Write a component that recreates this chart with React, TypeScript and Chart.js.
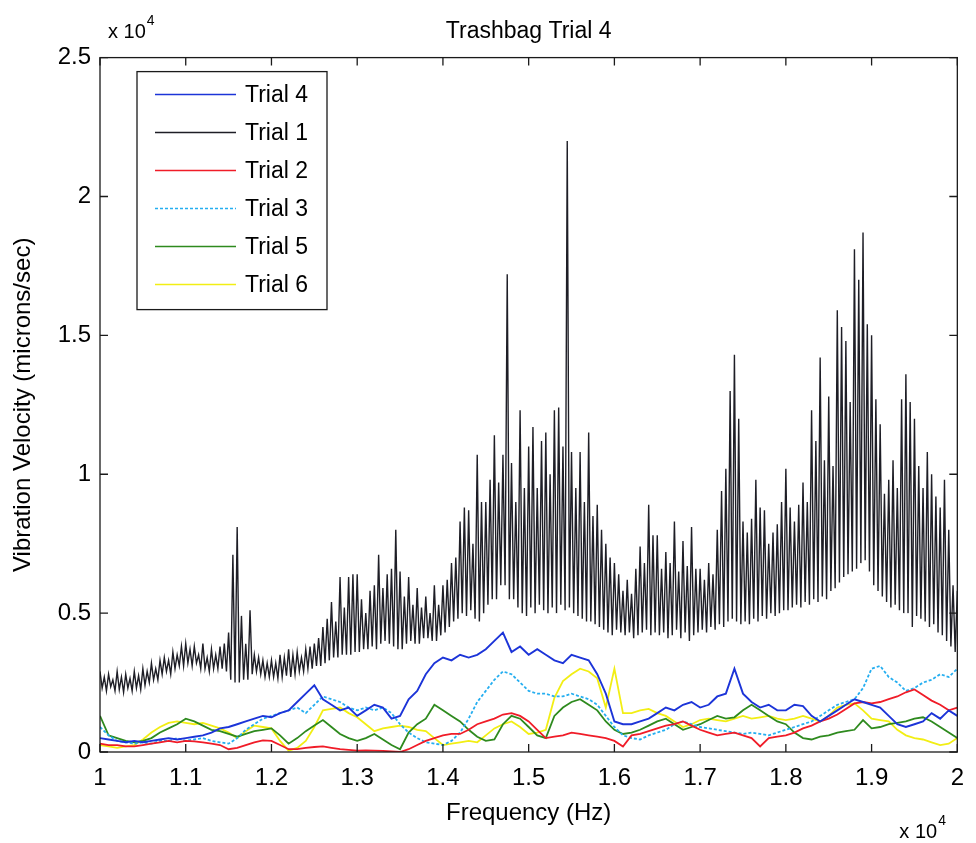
import React, { useEffect, useRef } from "react";
import { Chart, registerables } from "chart.js";

Chart.register(...registerables);

const FONT = '"Liberation Sans", Arial, Helvetica, sans-serif';

// Frequency grids (Hz)
const FREQ_FINE = Array.from({ length: 201 }, (_, i) => 10000 + i * 50);
const FREQ_MID = Array.from({ length: 101 }, (_, i) => 10000 + i * 100);

// Trial 1 (black) – tops / bottoms of the dense oscillation, every 50 Hz
const TRIAL1_UPPER = [
  2900, 2700, 2800, 2600, 2900, 2700, 2800, 2650, 2900, 2750,
  3000, 2900, 3200, 3000, 3300, 3400, 3300, 3600, 3500, 3800,
  3900, 3700, 3800, 3500, 3900, 3400, 3700, 3500, 3800, 3900,
  4300, 7100, 8100, 4900, 3900, 5100, 3500, 3400, 3300, 3200,
  3300, 3200, 3500, 3400, 3700, 3500, 3600, 3400, 3700, 3800,
  3900, 4100, 4500, 4800, 5400, 4700, 6300, 5200, 6300, 6400,
  6400, 5500, 5000, 5800, 6000, 7100, 5900, 6400, 6600, 8000,
  6500, 5600, 6300, 5300, 5900, 5200, 5600, 5000, 6000, 5300,
  6000, 6200, 6800, 7000, 8300, 8800, 8700, 7500, 10700, 9000,
  9000, 9800, 11400, 9700, 10700, 17200, 10400, 9000, 12300, 9500,
  11000, 11700, 9500, 11200, 11500, 10000, 12300, 12400, 11000, 22000,
  10800, 9500, 10800, 9000, 11500, 8500, 8900, 8000, 7500, 7000,
  6800, 6400, 5800, 6200, 5700, 6600, 7400, 6800, 8900, 7800,
  7800, 6600, 7200, 6800, 8300, 6500, 7600, 6700, 8100, 6600,
  6600, 6200, 6800, 6400, 8000, 9400, 10200, 13000, 14300, 12000,
  8300, 7900, 8400, 9800, 8800, 8700, 7500, 7900, 8200, 9000,
  10200, 8800, 8300, 8900, 9700, 9000, 12300, 11200, 14200, 10500,
  12800, 10300, 15900, 15300, 14800, 12600, 18100, 17000, 18700, 15400,
  15000, 12700, 11800, 9300, 9800, 10500, 9500, 12700, 13600, 12600,
  12000, 10300, 9500, 10800, 10000, 9200, 8800, 9800, 8000, 6000,
  5800,
];
const TRIAL1_LOWER = [
  2300, 2200, 2350, 2200, 2250, 2150, 2300, 2200, 2300, 2250,
  2400, 2500, 2600, 2600, 2800, 2900, 2800, 3000, 3100, 3100,
  3200, 3100, 3200, 3000, 3000, 2900, 3000, 3000, 3000, 2900,
  2600, 2500, 2500, 2600, 2600, 2800, 2900, 2800, 2700, 2700,
  2700, 2650, 2700, 2750, 2700, 2800, 2900, 2900, 3000, 3000,
  3100, 3100, 3200, 3300, 3400, 3400, 3500, 3500, 3500, 3600,
  3600, 3700, 3700, 3800, 3700, 3900, 4000, 3900, 3800, 3700,
  3700, 3900, 4000, 3900, 3900, 4100, 4100, 4000, 4000, 4200,
  4300, 4500, 4700, 4800, 5000, 4900, 5100, 4800, 4700, 5000,
  5300, 5500, 5500, 6000, 6000, 5500, 5500, 5200, 5000, 4900,
  5200, 5000, 5300, 5100, 5000, 5200, 5000, 5300, 5100, 5200,
  5000, 4900, 4800, 4700, 4700, 4600, 4500, 4400, 4300, 4200,
  4400, 4300, 4200, 4300, 4100, 4200, 4300, 4400, 4200, 4300,
  4200, 4300, 4100, 4200, 4400, 4100, 4300, 4000, 4200, 4300,
  4400, 4300, 4500, 4400, 4600, 4500, 4700, 4800, 4700, 4600,
  4700, 4600, 4800, 4700, 4900, 4800, 5000, 4900, 5000, 5100,
  5100, 5200, 5300, 5200, 5400, 5300, 5500, 5400, 5600, 5500,
  5800, 5900, 6100, 6300, 6400, 6500, 6600, 6800, 6900, 6500,
  6000, 5800, 5600, 5400, 5200, 5300, 5100, 5000, 5000, 4500,
  4900, 4800, 4700, 4500, 4600, 4300, 4200, 4000, 3800, 3600,
  3400,
];

// Other trials, every 100 Hz
const TRIAL4 = [
  500, 450, 400, 350, 400, 350, 400, 450, 500, 450,
  500, 550, 600, 700, 850, 900, 1000, 1100, 1200, 1300,
  1250, 1400, 1500, 1800, 2100, 2400, 1900, 1700, 1500, 1600,
  1300, 1500, 1700, 1600, 1200, 1300, 1900, 2200, 2800, 3200,
  3400, 3300, 3500, 3400, 3500, 3700, 4000, 4300, 3600, 3800,
  3500, 3700, 3500, 3300, 3200, 3500, 3400, 3300, 2800, 2100,
  1100, 1000, 1000, 1100, 1200, 1400, 1600, 1500, 1700, 1800,
  1600, 1700, 2000, 2100, 3000, 2100, 1800, 1600, 1700, 1500,
  1500, 1700, 1650, 1300, 1100, 1300, 1500, 1700, 1900, 1800,
  1700, 1600, 1300, 1000, 900, 1000, 1100, 1400, 1200, 1500,
  1300,
];
const TRIAL2 = [
  300, 250, 250, 200, 200, 250, 300, 350, 400, 350,
  400, 380, 350, 300, 250, 100, 150, 250, 350, 420,
  400, 250, 100, 100, 150, 180, 200, 150, 100, 80,
  50, 60, 50, 40, 20, 0, 100, 250, 400, 500,
  600, 650, 650, 800, 1000, 1100, 1200, 1350, 1400, 1300,
  1100, 800, 500, 550, 600, 700, 650, 600, 550, 500,
  400, 200, 600, 650, 750, 850, 950, 1000, 1100, 950,
  800, 700, 600, 650, 700, 600, 500, 200, 500, 550,
  600, 700, 850, 950, 1100, 1200, 1350, 1550, 1750, 1800,
  1750, 1800, 1900, 2000, 2150, 2250, 2050, 1850, 1700, 1500,
  1600,
];
const TRIAL3 = [
  900, 600, 400, 350, 300, 350, 300, 400, 400, 500,
  400, 450, 500, 400, 350, 300, 500, 800, 1000, 1200,
  1300, 1400, 1500, 1600, 1400, 1700, 2000, 1900, 1800, 1600,
  1500, 1600, 1500, 1600, 1400, 1000, 700, 500, 350, 300,
  250, 400, 700, 1200, 1800, 2200, 2600, 2900, 2800, 2500,
  2200, 2100, 2100, 2000, 2000, 2100, 2000, 1900, 1700, 1300,
  900, 600, 500, 450, 600, 700, 800, 1000, 1100, 1000,
  900, 850, 800, 750, 700, 650, 700, 650, 600, 700,
  800, 900, 1000, 1100, 1300, 1500, 1700, 1800, 1900, 2300,
  3000, 3100, 2700, 2500, 2200, 2300, 2500, 2600, 2800, 2700,
  3000,
];
const TRIAL5 = [
  1300, 600, 500, 400, 350, 400, 500, 700, 850, 1000,
  1200, 1100, 950, 800, 750, 650, 550, 650, 750, 800,
  850, 600, 300, 500, 750, 950, 1150, 900, 650, 500,
  400, 500, 650, 450, 250, 100, 700, 1000, 1200, 1700,
  1500, 1300, 1100, 800, 550, 400, 450, 1000, 1300, 1200,
  900, 600, 500, 1300, 1600, 1800, 1900, 1700, 1500, 1100,
  800, 650, 700, 800, 950, 1100, 1200, 1000, 800, 900,
  1000, 1150, 1300, 1200, 1250, 1500, 1700, 1500, 1300, 1100,
  1000, 700, 500, 450, 550, 600, 700, 750, 800, 1150,
  850, 900, 1000, 1050, 1100, 1200, 1250, 1100, 900, 700,
  500,
];
const TRIAL6 = [
  250, 200, 150, 200, 250, 450, 700, 900, 1050, 1100,
  1050, 1000, 1050, 950, 850, 700, 500, 750, 950, 900,
  850, 400, 50, 150, 400, 900, 1500, 1550, 1600, 1400,
  1250, 1000, 750, 850, 900, 950, 900, 800, 750, 500,
  250, 300, 350, 400, 350, 600, 850, 1000, 1100, 900,
  650, 700, 800, 1950, 2550, 2800, 3000, 2900, 2650, 1600,
  3000, 1400, 1400, 1500, 1550, 1400, 1300, 1100, 900, 1000,
  1150, 1200, 1150, 1100, 1200, 1300, 1200, 1250, 1300, 1200,
  1150, 1200, 1300, 1200, 1100, 1300, 1600, 1700, 1750, 1500,
  1200, 1150, 1100, 800, 600, 500, 450, 350, 250, 300,
  500,
];

const X_TICK_VALUES = [10000, 11000, 12000, 13000, 14000, 15000, 16000, 17000, 18000, 19000, 20000];
const X_TICK_LABELS = ["1", "1.1", "1.2", "1.3", "1.4", "1.5", "1.6", "1.7", "1.8", "1.9", "2"];
const Y_TICK_VALUES = [0, 5000, 10000, 15000, 20000, 25000];
const Y_TICK_LABELS = ["0", "0.5", "1", "1.5", "2", "2.5"];

const SERIES_LABELS = ["Trial 4", "Trial 1", "Trial 2", "Trial 3", "Trial 5", "Trial 6"];
const SERIES_COLORS = ["#1c34d8", "#1e1e26", "#f01c28", "#25aef0", "#2e8a1e", "#f2ee14"];

function buildTrial1() {
  const pts: { x: number; y: number }[] = [];
  FREQ_FINE.forEach((f, i) => {
    pts.push({ x: f, y: TRIAL1_UPPER[i] });
    pts.push({ x: f + 25, y: TRIAL1_LOWER[i] });
  });
  return pts;
}

function mid(values: number[]) {
  return FREQ_MID.map((f, i) => ({ x: f, y: values[i] }));
}

const framePlugin = {
  id: "matlabFrame",
  afterDraw(chart: any) {
    const { ctx, chartArea } = chart;
    const { left, right, top, bottom } = chartArea;
    const xs = chart.scales.x;
    const ys = chart.scales.y;
    ctx.save();
    ctx.strokeStyle = "#1a1a1a";
    ctx.lineWidth = 1.3;
    ctx.strokeRect(left, top, right - left, bottom - top);
    const TL = 8;
    ctx.beginPath();
    xs.ticks.forEach((t: any) => {
      const px = xs.getPixelForValue(t.value);
      ctx.moveTo(px, bottom);
      ctx.lineTo(px, bottom - TL);
      ctx.moveTo(px, top);
      ctx.lineTo(px, top + TL);
    });
    ys.ticks.forEach((t: any) => {
      const py = ys.getPixelForValue(t.value);
      ctx.moveTo(left, py);
      ctx.lineTo(left + TL, py);
      ctx.moveTo(right, py);
      ctx.lineTo(right - TL, py);
    });
    ctx.stroke();

    // legend box
    const lx = left + 37;
    const ly = top + 14;
    const lw = 190;
    const lh = 238;
    ctx.fillStyle = "#ffffff";
    ctx.fillRect(lx, ly, lw, lh);
    ctx.strokeStyle = "#1a1a1a";
    ctx.lineWidth = 1.3;
    ctx.strokeRect(lx, ly, lw, lh);
    ctx.font = `23px ${FONT}`;
    ctx.textBaseline = "middle";
    ctx.textAlign = "left";
    chart.data.datasets.forEach((ds: any, i: number) => {
      const yy = ly + 23 + i * 38;
      ctx.save();
      ctx.strokeStyle = ds.borderColor;
      ctx.lineWidth = 1.5;
      ctx.setLineDash(ds.borderDash || []);
      ctx.beginPath();
      ctx.moveTo(lx + 18, yy);
      ctx.lineTo(lx + 99, yy);
      ctx.stroke();
      ctx.restore();
      ctx.fillStyle = "#000";
      ctx.fillText(ds.label, lx + 108, yy + 1);
    });

    // exponent annotations
    ctx.fillStyle = "#000";
    ctx.textBaseline = "alphabetic";
    ctx.font = `20px ${FONT}`;
    ctx.fillText("x 10", left + 8, top - 20);
    const w1 = ctx.measureText("x 10").width;
    ctx.font = `14px ${FONT}`;
    ctx.fillText("4", left + 8 + w1 + 1, top - 33);
    ctx.font = `20px ${FONT}`;
    const w2 = ctx.measureText("x 10").width;
    ctx.fillText("x 10", right - 58, bottom + 86);
    ctx.font = `14px ${FONT}`;
    ctx.fillText("4", right - 58 + w2 + 1, bottom + 73);
    ctx.restore();
  },
};

export default function App() {
  const ref = useRef<HTMLCanvasElement | null>(null);

  useEffect(() => {
    document.body.style.margin = "0";
    const canvas = ref.current;
    if (!canvas) return;
    const datasets = [
      { label: SERIES_LABELS[0], data: mid(TRIAL4), borderColor: SERIES_COLORS[0], borderWidth: 1.9 },
      { label: SERIES_LABELS[1], data: buildTrial1(), borderColor: SERIES_COLORS[1], borderWidth: 1.4 },
      { label: SERIES_LABELS[2], data: mid(TRIAL2), borderColor: SERIES_COLORS[2], borderWidth: 1.8 },
      { label: SERIES_LABELS[3], data: mid(TRIAL3), borderColor: SERIES_COLORS[3], borderWidth: 1.8, borderDash: [3, 2] },
      { label: SERIES_LABELS[4], data: mid(TRIAL5), borderColor: SERIES_COLORS[4], borderWidth: 1.8 },
      { label: SERIES_LABELS[5], data: mid(TRIAL6), borderColor: SERIES_COLORS[5], borderWidth: 1.8 },
    ].map((d) => ({ ...d, pointRadius: 0, tension: 0, fill: false }));

    const chart = new Chart(canvas, {
      type: "line",
      data: { datasets },
      plugins: [framePlugin],
      options: {
        animation: false,
        responsive: false,
        parsing: false as any,
        normalized: true,
        layout: { padding: { left: 0, right: 8, top: 0, bottom: 0 } },
        plugins: {
          legend: { display: false },
          tooltip: { enabled: false },
          title: {
            display: true,
            text: "Trashbag Trial 4",
            color: "#000",
            fullSize: false,
            font: { family: FONT, size: 23, weight: "normal" },
            padding: { top: 18, bottom: 12 },
          },
        },
        scales: {
          x: {
            type: "linear",
            min: 10000,
            max: 20000,
            afterBuildTicks: (s: any) => {
              s.ticks = X_TICK_VALUES.map((v) => ({ value: v }));
            },
            afterFit: (s: any) => {
              s.height = 91;
            },
            grid: { display: false, drawTicks: false },
            border: { display: false },
            ticks: {
              autoSkip: false,
              maxRotation: 0,
              padding: 12,
              color: "#000",
              font: { family: FONT, size: 24 },
              callback: (_v: any, i: number) => X_TICK_LABELS[i],
            },
            title: {
              display: true,
              text: "Frequency (Hz)",
              color: "#000",
              font: { family: FONT, size: 24 },
              padding: { top: 0, bottom: 15 },
            },
          },
          y: {
            type: "linear",
            min: 0,
            max: 25000,
            afterBuildTicks: (s: any) => {
              s.ticks = Y_TICK_VALUES.map((v) => ({ value: v }));
            },
            afterFit: (s: any) => {
              s.width = 100;
            },
            grid: { display: false, drawTicks: false },
            border: { display: false },
            ticks: {
              autoSkip: false,
              padding: 9,
              color: "#000",
              font: { family: FONT, size: 24 },
              callback: (_v: any, i: number) => Y_TICK_LABELS[i],
            },
            title: {
              display: true,
              text: "Vibration Velocity (microns/sec)",
              color: "#000",
              font: { family: FONT, size: 24 },
              padding: { top: 9, bottom: 0 },
            },
          },
        },
      },
    } as any);
    return () => chart.destroy();
  }, []);

  return (
    <div style={{ width: 976, height: 843, background: "#fff" }}>
      <canvas ref={ref} width={976} height={843} style={{ display: "block" }} />
    </div>
  );
}
